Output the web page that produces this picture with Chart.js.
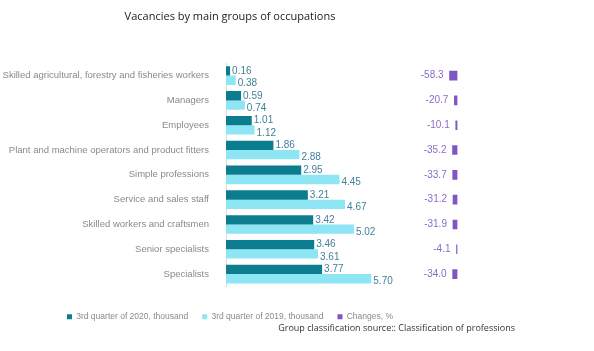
<!DOCTYPE html>
<html>
<head>
<meta charset="utf-8">
<script src="https://cdn.jsdelivr.net/npm/chart.js@4"></script>
<style>
    html, body { margin: 0; padding: 0; background: #fff; }
    #wrap { position: relative; width: 594px; height: 351px; }
    #source {
        position: absolute; right: 79px; top: 321px;
        font-family: 'Open Sans', sans-serif; font-size: 9px; color: #333;
        white-space: nowrap;
    }
</style>
</head>
<body>
<div id="wrap">
    <canvas id="barChart" width="594" height="351"></canvas>
    <div id="source">Group classification source:: Classification of professions</div>
</div>
<script>
const categories = [
    'Skilled agricultural, forestry and fisheries workers',
    'Managers',
    'Employees',
    'Plant and machine operators and product fitters',
    'Simple professions',
    'Service and sales staff',
    'Skilled workers and craftsmen',
    'Senior specialists',
    'Specialists'
];
const q3of2020 = [0.16, 0.59, 1.01, 1.86, 2.95, 3.21, 3.42, 3.46, 3.77];
const q3of2019 = [0.38, 0.74, 1.12, 2.88, 4.45, 4.67, 5.02, 3.61, 5.70];
const changesPct = [-58.3, -20.7, -10.1, -35.2, -33.7, -31.2, -31.9, -4.1, -34.0];

document.addEventListener('DOMContentLoaded', function () {
    let ctxBar = document.getElementById('barChart').getContext('2d');

    // Value labels next to each bar
    const valueLabels = {
        id: 'valueLabels',
        afterDatasetsDraw(chart) {
            const ctx = chart.ctx;
            ctx.save();
            ctx.textBaseline = 'middle';
            ctx.font = '10px "Liberation Sans", Arial, sans-serif';
            chart.data.datasets.forEach((ds, i) => {
                const meta = chart.getDatasetMeta(i);
                meta.data.forEach((bar, j) => {
                    const v = ds.data[j];
                    if (i === 2) {
                        ctx.fillStyle = '#8a6cc9';
                        ctx.textAlign = 'right';
                        ctx.fillText(v.toFixed(1), bar.x - 6, bar.y);
                    } else {
                        ctx.fillStyle = '#437f9b';
                        ctx.textAlign = 'left';
                        ctx.fillText(v.toFixed(2), bar.x + 2, bar.y + (i === 1 ? 3 : 0));
                    }
                });
            });
            ctx.restore();
        }
    };

    let barChart = new Chart(ctxBar, {
        type: 'bar',
        data: {
            labels: categories,
            datasets: [{
                label: '3rd quarter of 2020, thousand',
                data: q3of2020,
                xAxisID: 'x',
                backgroundColor: '#0b7d8e',
                categoryPercentage: 0.75,
                barPercentage: 1
            }, {
                label: '3rd quarter of 2019, thousand',
                data: q3of2019,
                xAxisID: 'x',
                backgroundColor: '#8ee5f4',
                categoryPercentage: 0.75,
                barPercentage: 1
            }, {
                label: 'Changes, %',
                data: changesPct,
                xAxisID: 'x2',
                backgroundColor: '#7e57c2',
                grouped: false,
                categoryPercentage: 1,
                barPercentage: 1,
                maxBarThickness: 9
            }]
        },
        options: {
            indexAxis: 'y',
            responsive: false,
            animation: false,
            layout: { padding: { left: 0, right: 134, top: 0, bottom: 20 } },
            scales: {
                x: {
                    min: 0, max: 9.18,
                    grid: { display: false },
                    border: { display: false },
                    ticks: { display: false },
                    afterFit: s => { s.height = 12; }
                },
                x2: {
                    display: false,
                    min: -1796, max: 23
                },
                y: {
                    grid: { display: false },
                    border: { display: true, color: '#dcdcdc' },
                    ticks: {
                        color: '#8a8a8a',
                        padding: 9,
                        font: { family: '"Liberation Sans", Arial, sans-serif', size: 9.5 }
                    },
                    afterFit: s => { s.width = 226; }
                }
            },
            plugins: {
                title: {
                    display: true,
                    text: 'Vacancies by main groups of occupations',
                    color: '#222',
                    font: { family: '"Open Sans", sans-serif', size: 11, weight: 'normal' },
                    padding: { top: 10, bottom: 40 }
                },
                legend: {
                    position: 'bottom',
                    labels: {
                        color: '#8a8a8a',
                        boxWidth: 5,
                        boxHeight: 5,
                        padding: 14,
                        font: { family: '"Liberation Sans", Arial, sans-serif', size: 8.5 }
                    }
                },
                tooltip: { enabled: false }
            }
        },
        plugins: [valueLabels]
    });
});
</script>
</body>
</html>
